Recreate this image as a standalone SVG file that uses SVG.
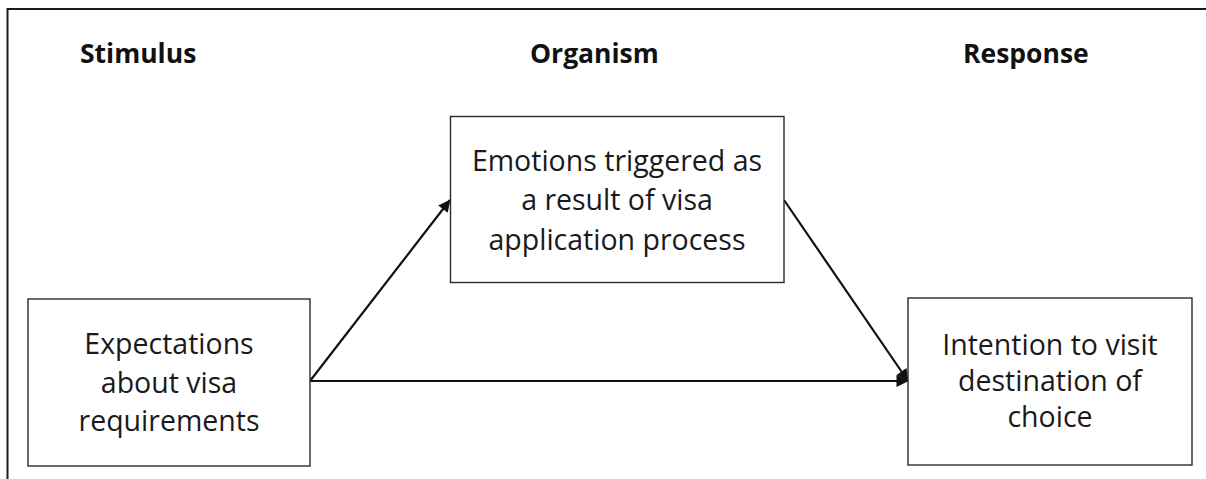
<svg xmlns="http://www.w3.org/2000/svg" width="1206" height="479" viewBox="0 0 1206 479">
  <style>
    .frame { fill: none; stroke: #1a1a1a; stroke-width: 2; }
    .box { fill: #ffffff; stroke: #2b2b2b; stroke-width: 1.4; }
    .head { font-family: "Open Sans", "Liberation Sans", sans-serif; font-weight: bold; font-size: 26.5px; fill: #111; }
    .label { font-family: "Open Sans", "Liberation Sans", sans-serif; font-size: 28.5px; fill: #1a1a1a; text-anchor: middle; }
    .link { fill: none; stroke: #111; stroke-width: 2.2; marker-end: url(#arrow); }
  </style>
  <defs>
    <marker id="arrow" viewBox="0 0 10 10" refX="9.5" refY="5" markerWidth="6" markerHeight="5.5" orient="auto" markerUnits="strokeWidth">
      <path d="M0,0 L10,5 L0,10 Z" fill="#111"/>
    </marker>
  </defs>

  <rect x="0" y="0" width="1206" height="479" fill="#ffffff"/>
  <!-- outer frame, open at right and bottom -->
  <path class="frame" d="M7.5,479 V9 H1206"/>

  <!-- column headings -->
  <g id="headings">
    <text class="head" x="80" y="63">Stimulus</text>
    <text class="head" x="530" y="63">Organism</text>
    <text class="head" x="963" y="63">Response</text>
  </g>

  <!-- connectors -->
  <g id="connectors">
    <line class="link" x1="310" y1="381" x2="450" y2="200"/>
    <line class="link" x1="784" y1="200" x2="908" y2="381"/>
    <line class="link" x1="310" y1="381" x2="908" y2="381"/>
  </g>

  <g id="stimulus">
    <rect class="box" x="28" y="299" width="282" height="167"/>
    <text class="label" x="169" y="354">Expectations</text>
    <text class="label" x="169" y="393">about visa</text>
    <text class="label" x="169" y="431">requirements</text>
  </g>

  <g id="organism">
    <rect class="box" x="450.5" y="116.5" width="333.5" height="166"/>
    <text class="label" x="617" y="171">Emotions triggered as</text>
    <text class="label" x="617" y="210">a result of visa</text>
    <text class="label" x="617" y="250">application process</text>
  </g>

  <g id="response">
    <rect class="box" x="908" y="298" width="284" height="167"/>
    <text class="label" x="1050" y="355">Intention to visit</text>
    <text class="label" x="1050" y="391">destination of</text>
    <text class="label" x="1050" y="427">choice</text>
  </g>
</svg>
